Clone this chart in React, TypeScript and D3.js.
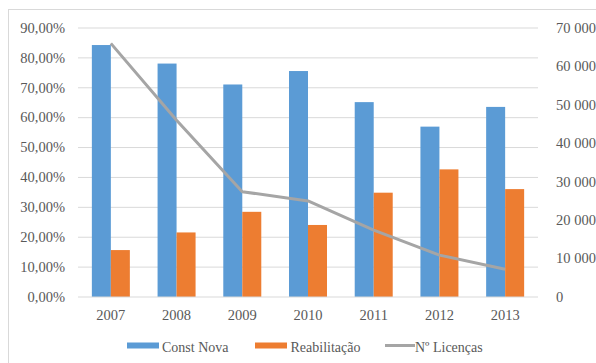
import React from "react";
import * as d3 from "d3";

const years = ["2007", "2008", "2009", "2010", "2011", "2012", "2013"];
const constNova = [84.3, 78.1, 71.1, 75.6, 65.2, 57.0, 63.6];
const reabilitacao = [15.7, 21.6, 28.5, 24.1, 34.9, 42.7, 36.1];
const licencas = [66000, 46000, 27400, 25000, 17400, 10900, 7200];
const leftTicks = [0, 10, 20, 30, 40, 50, 60, 70, 80, 90];
const rightTicks = [0, 10000, 20000, 30000, 40000, 50000, 60000, 70000];

const W = 596;
const H = 363;
const M = { left: 78, right: 538, top: 28, bottom: 297 };
const FONT = "Liberation Serif, Times New Roman, serif";
const BLUE = "#5b9bd5";
const ORANGE = "#ed7d31";
const GREY = "#a5a5a5";
const TXT = "#595959";
const FS = 14.5;

export default function App() {
  const x = d3.scaleBand().domain(years).range([M.left, M.right]);
  const yL = d3.scaleLinear().domain([0, 90]).range([M.bottom, M.top]);
  const yR = d3.scaleLinear().domain([0, 70000]).range([M.bottom, M.top]);
  const barW = 19;
  const line = d3
    .line<number>()
    .x((_, i) => (x(years[i]) as number) + x.bandwidth() / 2)
    .y((d) => yR(d));
  const fmtL = (v: number) => v.toFixed(2).replace(".", ",") + "%";
  const fmtR = (v: number) =>
    v === 0 ? "0" : `${Math.floor(v / 1000)} ${String(v % 1000).padStart(3, "0")}`;

  return (
    <svg
      width={W}
      height={H}
      style={{ position: "absolute", left: 0, top: 0, background: "#fff", fontFamily: FONT }}
    >
      <rect x={8.5} y={9.5} width={W} height={H} fill="none" stroke="#d9d9d9" />
      {leftTicks.map((t) => (
        <g key={t}>
          {t > 0 && (
            <line x1={M.left} x2={M.right} y1={yL(t)} y2={yL(t)} stroke="#d9d9d9" strokeWidth={1} />
          )}
          <text x={65} y={yL(t) + 4.8} textAnchor="end" fontSize={FS} fill={TXT}>
            {fmtL(t)}
          </text>
        </g>
      ))}
      {rightTicks.map((t) => (
        <text key={t} x={556} y={yR(t) + 4.8} fontSize={FS} fill={TXT}>
          {fmtR(t)}
        </text>
      ))}
      {years.map((yr, i) => {
        const cx = (x(yr) as number) + x.bandwidth() / 2;
        return (
          <g key={yr}>
            <rect x={cx - barW} y={yL(constNova[i])} width={barW} height={M.bottom - yL(constNova[i])} fill={BLUE} />
            <rect x={cx} y={yL(reabilitacao[i])} width={barW} height={M.bottom - yL(reabilitacao[i])} fill={ORANGE} />
            <text x={cx} y={319.5} textAnchor="middle" fontSize={FS} fill={TXT}>
              {yr}
            </text>
          </g>
        );
      })}
      <line x1={M.left} x2={M.right} y1={M.bottom} y2={M.bottom} stroke="#d9d9d9" />
      <path d={line(licencas) ?? ""} fill="none" stroke={GREY} strokeWidth={3} strokeLinejoin="round" />
      <g fontSize={14} fill={TXT}>
        <rect x={127} y={342.5} width={32} height={6} fill={BLUE} />
        <text x={162} y={352}>Const Nova</text>
        <rect x={255} y={342.5} width={32} height={6} fill={ORANGE} />
        <text x={290.5} y={352}>Reabilitação</text>
        <line x1={385} x2={415} y1={345.5} y2={345.5} stroke={GREY} strokeWidth={3} />
        <text x={415} y={352}>Nº Licenças</text>
      </g>
    </svg>
  );
}
